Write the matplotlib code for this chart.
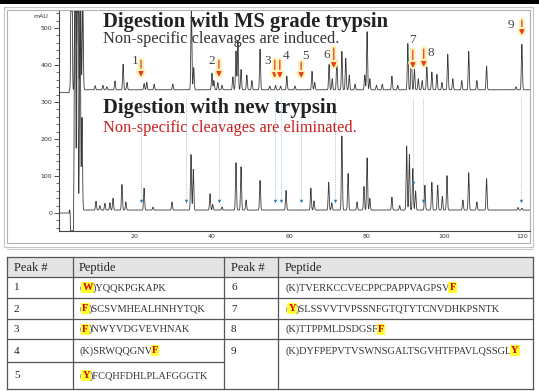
import matplotlib
matplotlib.use("Agg")
import matplotlib.pyplot as plt
import matplotlib.patheffects as pe
from matplotlib.patches import Rectangle
from matplotlib.ticker import MultipleLocator
import numpy as np

# ---- chromatogram data (retention time in min, peak height above baseline in mAU)
ms_base = [326, 333]          # MS grade trypsin trace, before / after solvent front
ms_rt = [3.9, 4.9, 5.5, 6.2, 6.8, 10.0, 12.0, 13.0, 15.1, 17.2, 18.2, 22.6, 23.3, 25.2,
         30.0, 34.8, 35.4, 40.1, 40.6, 41.6, 42.7, 45.5, 46.3, 46.8, 47.6, 49.1, 50.4,
         52.5, 55.0, 56.5, 57.8, 59.4, 61.5, 65.9, 66.6, 70.3, 71.1, 72.3, 73.6, 74.6,
         75.5, 77.0, 79.5, 80.1, 80.8, 82.5, 84.0, 86.5, 88.0, 90.6, 91.5, 92.3, 93.3,
         94.3, 95.5, 96.8, 98.1, 99.4, 100.9, 102.2, 104.5, 106.3, 108.4, 110.9, 118.5,
         120.0]
ms_h = [900, 900, 900, 350, 250, 11, 12, 8, 24, 69, 20, 17, 20, 15,
        15, 230, 60, 45, 25, 20, 12, 35, 105, 133, 55, 40, 25,
        110, 10, 12, 10, 37, 10, 50, 20, 69, 30, 80, 104, 85,
        40, 15, 40, 157, 30, 12, 15, 37, 12, 125, 112, 55, 30,
        25, 62, 48, 42, 20, 96, 30, 25, 104, 25, 64, 8,
        123]

new_base = [0, 8]             # new trypsin trace
new_rt = [4.0, 4.8, 5.4, 6.1, 6.6, 10.2, 11.2, 12.5, 13.8, 14.6, 16.9, 17.9, 22.6, 24.9,
          29.8, 34.7, 35.3, 39.6, 40.3, 42.7, 46.3, 47.6, 48.9, 52.5, 59.2, 65.6, 66.4,
          70.2, 71.0, 73.6, 75.2, 77.5, 79.3, 80.1, 80.8, 86.5, 88.5, 90.3, 91.0, 91.9,
          92.6, 95.0, 96.8, 98.3, 99.5, 100.7, 104.8, 106.3, 108.4, 110.9, 119.0, 120.0]
new_h = [-5000, 1200, 1200, 600, 250, 24, 12, 18, 20, 32, 69, 22, 59, 8,
         22, 150, 110, 44, 15, 8, 128, 117, 27, 80, 53, 59, 25,
         75, 20, 200, 99, 22, 64, 141, 32, 35, 12, 173, 150, 112,
         52, 67, 75, 67, 37, 93, 27, 101, 22, 85, 7, 5]
front_rt = 3.3

# non-specific cleavage peaks (arrows on upper trace)
arrow_lbl = ["1", "2", "3", "4", "5", "6", "7", "8", "9"]
arrow_rt = [21.8, 41.9, 56.3, 57.6, 63.1, 71.5, 91.9, 94.7, 120.0]
arrow_top = [413, 413, 413, 413, 408, 446, 440, 443, 521]
arrow_tip = [368, 368, 365, 365, 365, 392, 392, 395, 481]
lbl_rt = [20.2, 40.1, 54.5, 59.2, 64.3, 69.7, 91.9, 96.5, 117.2]
lbl_val = [411, 411, 411, 424, 424, 428, 467, 432, 508]

# same positions marked on the new trypsin trace
mark_rt = [21.8, 33.4, 41.9, 56.3, 57.9, 63.1, 71.8, 91.9, 94.5, 119.7]
mark_val = [32, 32, 32, 32, 32, 32, 32, 80, 32, 32]

# ---- table
left_peak = ["1", "2", "3", "4", "5"]
left_pep = ["(W)YQQKPGKAPK", "(F)SCSVMHEALHNHYTQK", "(F)NWYVDGVEVHNAK",
            "(K)SRWQQGNVF", "(Y)FCQHFDHLPLAFGGGTK"]
left_hl = [1, 1, 1, -1, 1]
right_peak = ["6", "7", "8", "9"]
right_pep = ["(K)TVERKCCVECPPCPAPPVAGPSVF", "(Y)SLSSVVTVPSSNFGTQTYTCNVDHKPSNTK",
             "(K)TTPPMLDSDGSFF", "(K)DYFPEPVTVSWNSGALTSGVHTFPAVLQSSGLY"]
right_hl = [-1, 1, -1, -1]

SERIF = "Liberation Serif"
W, H = 539, 391

fig = plt.figure(figsize=(W / 100, H / 100), dpi=100)
bg = fig.add_axes([0, 0, 1, 1], zorder=0)
bg.set_xlim(0, W)
bg.set_ylim(H, 0)
bg.axis("off")

# frame of chromatogram panel
bg.add_patch(Rectangle((0, 0), W, 4, color="black", lw=0))
bg.add_patch(Rectangle((4, 7), 529, 240, fill=False, ec="#c4c4c4", lw=0.8))
bg.add_patch(Rectangle((7, 10), 523, 233, fill=False, ec="#b0b0b0", lw=0.8))


def trace(rt, h, base):
    t = np.arange(0.5, 122.4, 0.01)
    y = np.where(t < front_rt, base[0], base[1]).astype(float)
    for r, a in zip(rt, h):
        y += a * np.exp(-0.5 * ((t - r) / 0.13) ** 2)
    return t, np.clip(y, -48, 545)


ax = fig.add_axes([59 / W, 1 - 231 / H, (530 - 59) / W, (231 - 11) / H], zorder=2)
ax.patch.set_visible(False)
t1, y1 = trace(ms_rt, ms_h, ms_base)
t2, y2 = trace(new_rt, new_h, new_base)
ax.plot(t1, y1, color="#3a3a3a", lw=0.6)
ax.plot(t2, y2, color="#3a3a3a", lw=0.6)
ax.set_xlim(0.67, 122.1)
ax.set_ylim(-48.6, 546)
for s in ["top", "right"]:
    ax.spines[s].set_visible(False)
for s in ["left", "bottom"]:
    ax.spines[s].set_color("#444444")
    ax.spines[s].set_linewidth(0.8)
ax.set_yticks([0, 100, 200, 300, 400, 500])
ax.yaxis.set_minor_locator(MultipleLocator(20))
ax.set_xticks([20, 40, 60, 80, 100, 120])
ax.tick_params(axis="y", which="major", length=3.5, width=0.6, labelsize=4.5,
               colors="#333333", pad=1.5)
ax.tick_params(axis="y", which="minor", length=2, width=0.5, colors="#333333")
ax.tick_params(axis="x", length=0, labelsize=4.5, colors="#333333", pad=2)

# dotted markers on lower trace
ax.vlines(mark_rt, mark_val, 310, colors="#7ab3da", linestyles=(0, (1, 1.5)), lw=0.6)
ax.plot(mark_rt, mark_val, "v", color="#2a7ab6", ms=2.5, mec="none")

# arrows with soft glow
glow = [pe.Stroke(linewidth=4, foreground="#fff2b8"), pe.Normal()]
for r, a, b in zip(arrow_rt, arrow_top, arrow_tip):
    ax.annotate("", xy=(r, b), xytext=(r, a),
                arrowprops=dict(arrowstyle="-|>", color="#e8401a", lw=0.9,
                                mutation_scale=7, shrinkA=0, shrinkB=0,
                                path_effects=glow))
for s, r, v in zip(arrow_lbl, lbl_rt, lbl_val):
    ax.text(r, v, s, fontsize=9.5, family=SERIF, color="#444444", ha="center", va="center")

# titles
bg.text(41, 16, "mAU", fontsize=4.5, ha="center", va="center", color="#333333")
bg.text(103, 27, "Digestion with MS grade trypsin", fontsize=14.8, fontweight="bold",
        family=SERIF, color="#222222", va="baseline")
bg.text(103, 43, "Non-specific cleavages are induced.", fontsize=11.8, family=SERIF,
        color="#333333", va="baseline")
bg.text(103, 113, "Digestion with new trypsin", fontsize=14.8, fontweight="bold",
        family=SERIF, color="#222222", va="baseline")
bg.text(103, 132, "Non-specific cleavages are eliminated.", fontsize=11.8, family=SERIF,
        color="#c8201e", va="baseline")

# ---- table
tl, tr = 7, 533
rows = [257, 277, 298, 319, 339, 362, 389]
cols = [7, 73, 224, 278, 533]
bg.add_patch(Rectangle((tl, rows[0]), tr - tl, rows[1] - rows[0], color="#e4e4e4", lw=0))
lc = "#555555"
for y in [257, 277, 298, 319, 339, 389]:
    bg.plot([tl, tr], [y, y], color=lc, lw=0.9)
bg.plot([tl, cols[2]], [362, 362], color=lc, lw=0.9)
for x in cols:
    bg.plot([x, x], [rows[0], rows[-1]], color=lc, lw=0.9)
bg.plot([tl, tr], [249, 249], color="#c8c8c8", lw=0.8)

hdr_y = 271
for x, s in zip([14, 79, 231, 285], ["Peak #", "Peptide", "Peak #", "Peptide"]):
    bg.text(x, hdr_y, s, fontsize=9, family=SERIF, color="#222222", va="baseline")

renderer = fig.canvas.get_renderer()


def peptide(x, y, s, hl):
    i = hl % len(s)
    for piece, mark in [(s[:i], False), (s[i], True), (s[i + 1:], False)]:
        if not piece:
            continue
        if mark:
            txt = bg.text(x, y, piece, fontsize=7.5, family=SERIF, fontweight="bold",
                          color="#d00000", va="baseline",
                          bbox=dict(boxstyle="square,pad=0.1", fc="#ffff2e", ec="none"))
        else:
            txt = bg.text(x, y, piece, fontsize=7.5, family=SERIF, color="#333333",
                          va="baseline")
        bb = txt.get_window_extent(renderer)
        x = bg.transData.inverted().transform((bb.x1, bb.y0))[0]


centers = [(rows[k] + rows[k + 1]) / 2 for k in range(1, 6)]
for k, (p, s, hl) in enumerate(zip(left_peak, left_pep, left_hl)):
    bg.text(14, centers[k] + 3, p, fontsize=8, family=SERIF, color="#222222",
            va="baseline")
    peptide(79, centers[k] + 2.8, s, hl)
for k, (p, s, hl) in enumerate(zip(right_peak, right_pep, right_hl)):
    bg.text(231, centers[k] + 3, p, fontsize=8, family=SERIF, color="#222222",
            va="baseline")
    peptide(285, centers[k] + 2.8, s, hl)

fig.savefig("out.png", dpi=100)
